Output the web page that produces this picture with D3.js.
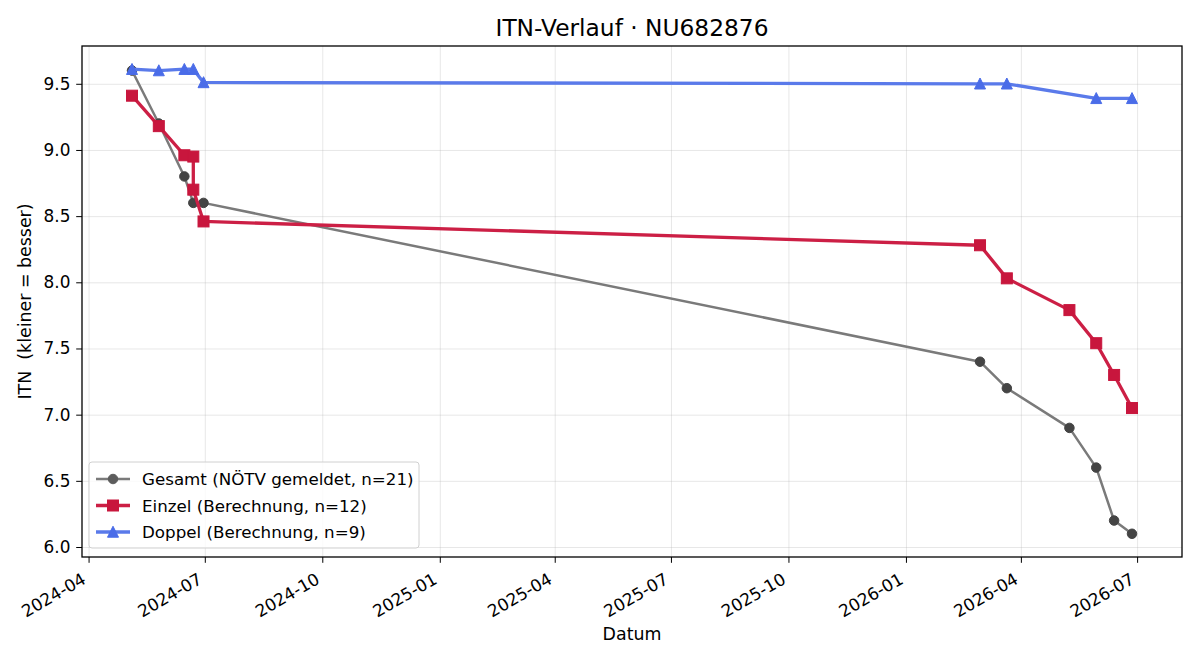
<!DOCTYPE html>
<html>
<head>
<meta charset="utf-8">
<script src="https://cdn.jsdelivr.net/npm/d3@7"></script>
<style>
  html, body { margin: 0; padding: 0; background: #fff; }
  svg { font-family: "DejaVu Sans", sans-serif; display: block; }
  .axis text { font-family: "DejaVu Sans", sans-serif; font-size: 16.9px; fill: #000; }
  .axis path, .axis line { stroke: #000; }
  .grid line { stroke: #b0b0b0; stroke-opacity: 0.3; }
  .grid path { display: none; }
</style>
</head>
<body>
<div id="chart"></div>
<script>
// ITN-Verlauf – Gesamt / Einzel / Doppel over time

const gesamtDates  = ["2024-05-05", "2024-05-26", "2024-06-15", "2024-06-22", "2024-06-30",
                      "2026-02-28", "2026-03-21", "2026-05-09", "2026-05-30", "2026-06-13", "2026-06-27"];
const gesamtValues = [9.60, 9.20, 8.80, 8.60, 8.60, 7.40, 7.20, 6.90, 6.60, 6.20, 6.10];

const einzelDates  = ["2024-05-05", "2024-05-26", "2024-06-15", "2024-06-22", "2024-06-22", "2024-06-30",
                      "2026-02-28", "2026-03-21", "2026-05-09", "2026-05-30", "2026-06-13", "2026-06-27"];
const einzelValues = [9.41, 9.18, 8.96, 8.95, 8.70, 8.46, 8.28, 8.03, 7.79, 7.54, 7.30, 7.05];

const doppelDates  = ["2024-05-05", "2024-05-26", "2024-06-15", "2024-06-22", "2024-06-30",
                      "2026-02-28", "2026-03-21", "2026-05-30", "2026-06-27"];
const doppelValues = [9.61, 9.60, 9.61, 9.61, 9.51, 9.50, 9.50, 9.39, 9.39];

const yTicks = [6.0, 6.5, 7.0, 7.5, 8.0, 8.5, 9.0, 9.5];

const seriesLabels = ["Gesamt (NÖTV gemeldet, n=21)", "Einzel (Berechnung, n=12)", "Doppel (Berechnung, n=9)"];

(function() {
  const fullW = 1200, fullH = 660;
  const margin = { top: 46, right: 18, bottom: 103, left: 82 };
  const W = fullW - margin.left - margin.right;
  const H = fullH - margin.top - margin.bottom;

  const parse = d3.timeParse("%Y-%m-%d");
  const zip = (ds, vs) => ds.map((d, i) => ({ date: parse(d), value: vs[i] }));

  const series = [
    { key: "gesamt", label: seriesLabels[0], data: zip(gesamtDates, gesamtValues),
      line: "#7a7a7a", fill: "#444444", legendFill: "#5c5c5c", width: 2.5, marker: "circle", size: 9.5 },
    { key: "einzel", label: seriesLabels[1], data: zip(einzelDates, einzelValues),
      line: "#cc1f45", fill: "#c8163d", legendFill: "#c8163d", width: 3.3, marker: "square", size: 11 },
    { key: "doppel", label: seriesLabels[2], data: zip(doppelDates, doppelValues),
      line: "#5a7aea", fill: "#4a6ce8", legendFill: "#4a6ce8", width: 3.3, marker: "triangle", size: 11 }
  ];

  const all = series.flatMap(s => s.data);
  const [d0, d1] = d3.extent(all, d => d.date);
  const dPad = (d1 - d0) * 0.05;
  const [v0, v1] = d3.extent(all, d => d.value);
  const vPad = (v1 - v0) * 0.05;

  const x = d3.scaleTime().domain([new Date(+d0 - dPad), new Date(+d1 + dPad)]).range([0, W]);
  const y = d3.scaleLinear().domain([v0 - vPad, v1 + vPad]).range([H, 0]);

  const svg = d3.select("#chart").append("svg")
    .attr("width", fullW).attr("height", fullH);

  const g = svg.append("g").attr("transform", `translate(${margin.left},${margin.top})`);

  const xTicks = d3.timeMonth.every(3);

  // grid
  g.append("g").attr("class", "grid")
    .attr("transform", `translate(0,${H})`)
    .call(d3.axisBottom(x).ticks(xTicks).tickSize(-H).tickFormat(""));
  g.append("g").attr("class", "grid")
    .call(d3.axisLeft(y).tickValues(yTicks).tickSize(-W).tickFormat(""));

  // lines + markers
  const line = d3.line().x(d => x(d.date)).y(d => y(d.value));

  function drawMarker(sel, s, fill) {
    const r = s.size / 2;
    if (s.marker === "circle") {
      sel.append("circle").attr("r", r);
    } else if (s.marker === "square") {
      sel.append("rect").attr("x", -r).attr("y", -r).attr("width", s.size).attr("height", s.size);
    } else {
      sel.append("path").attr("d", `M0,${-r * 1.05}L${r},${r * 0.95}L${-r},${r * 0.95}Z`);
    }
    sel.attr("fill", fill).attr("stroke", fill).attr("stroke-width", 1);
  }

  series.forEach(s => {
    const sg = g.append("g").attr("class", "series-" + s.key);
    sg.append("path")
      .datum(s.data)
      .attr("fill", "none")
      .attr("stroke", s.line)
      .attr("stroke-width", s.width)
      .attr("stroke-linejoin", "round")
      .attr("d", line);
    sg.selectAll("g.pt").data(s.data).enter()
      .append("g").attr("class", "pt")
      .attr("transform", d => `translate(${x(d.date)},${y(d.value)})`)
      .each(function() { drawMarker(d3.select(this), s, s.fill); });
  });

  // frame
  g.append("rect").attr("width", W).attr("height", H)
    .attr("fill", "none").attr("stroke", "#000").attr("stroke-width", 1.3);

  // axes
  const xAxisG = g.append("g").attr("class", "axis")
    .attr("transform", `translate(0,${H})`)
    .call(d3.axisBottom(x).ticks(xTicks).tickFormat(d3.timeFormat("%Y-%m")).tickSize(5.8).tickPadding(5));
  xAxisG.select(".domain").remove();
  xAxisG.selectAll("text")
    .attr("text-anchor", "end")
    .attr("x", 0).attr("y", 0).attr("dy", null)
    .attr("transform", "translate(-2,25.5) rotate(-30)");

  const yAxisG = g.append("g").attr("class", "axis")
    .call(d3.axisLeft(y).tickValues(yTicks).tickFormat(d3.format(".1f")).tickSize(5.8).tickPadding(5.8));
  yAxisG.select(".domain").remove();

  // title + labels
  svg.append("text")
    .attr("x", margin.left + W / 2).attr("y", 36)
    .attr("text-anchor", "middle")
    .style("font-size", "23.3px")
    .text("ITN-Verlauf · NU682876");

  svg.append("text")
    .attr("x", margin.left + W / 2).attr("y", 640)
    .attr("text-anchor", "middle")
    .style("font-size", "17.4px")
    .text("Datum");

  svg.append("text")
    .attr("transform", `translate(31,${margin.top + H / 2}) rotate(-90)`)
    .attr("text-anchor", "middle")
    .style("font-size", "17.4px")
    .style("white-space", "pre")
    .text("ITN  (kleiner = besser)");

  // legend
  const lg = g.append("g").attr("transform", `translate(7,${H - 95})`);
  lg.append("rect")
    .attr("width", 330).attr("height", 86).attr("rx", 3)
    .attr("fill", "#fff").attr("fill-opacity", 0.8)
    .attr("stroke", "#d0d0d0");
  series.forEach((s, i) => {
    const row = lg.append("g").attr("transform", `translate(0,${17 + i * 26.5})`);
    row.append("line").attr("x1", 7).attr("x2", 41)
      .attr("stroke", s.line).attr("stroke-width", s.width);
    const m = row.append("g").attr("transform", "translate(24,0)");
    drawMarker(m, s, s.legendFill);
    row.append("text").attr("x", 53).attr("y", 0)
      .attr("dominant-baseline", "central")
      .style("font-size", "16.7px")
      .text(s.label);
  });
})();
</script>
</body>
</html>
